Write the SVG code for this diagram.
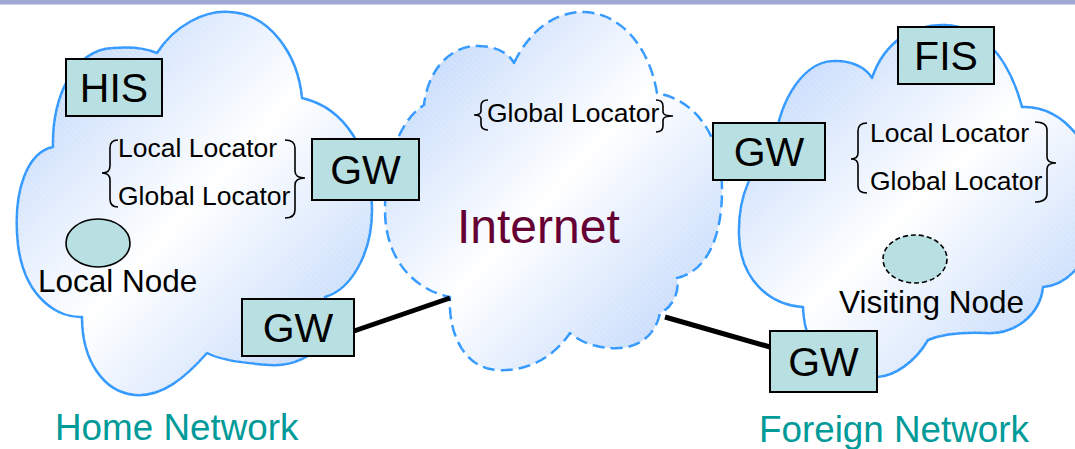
<svg xmlns="http://www.w3.org/2000/svg" width="1075" height="449" viewBox="0 0 1075 449">
  <defs>
    <linearGradient id="cloudFill" x1="0" y1="0" x2="1" y2="1">
      <stop offset="0" stop-color="#b3cffa"/>
      <stop offset="0.5" stop-color="#ffffff"/>
      <stop offset="1" stop-color="#b3cffa"/>
    </linearGradient>
    <pattern id="hatch" width="4" height="4" patternUnits="userSpaceOnUse" patternTransform="rotate(-45)">
      <line x1="0" y1="0" x2="0" y2="4" stroke="#ffffff" stroke-width="1" opacity="0.35"/>
    </pattern>
    <style>
      .cloud { fill: url(#cloudFill); stroke: #3399ff; stroke-width: 2.5; stroke-linejoin: round; }
      .hatch { fill: url(#hatch); stroke: none; }
      .dashed { stroke-dasharray: 12 6; }
      .box { fill: #b8e0e2; stroke: #000; stroke-width: 2; }
      .boxLabel { font-family: "Liberation Sans", Arial, sans-serif; font-size: 41px; fill: #000; text-anchor: middle; }
      .loc { font-family: "Liberation Sans", Arial, sans-serif; font-size: 26.5px; fill: #000; }
      .nodeLabel { font-family: "Liberation Sans", Arial, sans-serif; font-size: 31.5px; fill: #000; }
      .netLabel { font-family: "Liberation Sans", Arial, sans-serif; font-size: 36.8px; fill: #009a99; }
      .brace { fill: none; stroke: #000; stroke-width: 1.6; }
      .node { fill: #b8e0e2; stroke: #000; stroke-width: 1.6; }
      .link { stroke: #000; stroke-width: 5; }
    </style>
  </defs>

  <rect width="1075" height="449" fill="#ffffff"/>
  <rect x="0" y="0" width="1075" height="4.5" fill="#a0a8d4"/>

  <!-- Home network cloud -->
  <g id="home-network">
    <path id="home-cloud" class="cloud" d="M53,147 C52,100 72,50 113,48 C135,46 150,50 157,53 C175,25 205,10 230,12 C270,14 298,55 302,98 C345,108 372,150 372,210 C372,255 350,290 325,297 C345,322 318,368 270,365 C240,363 220,360 207,353 C185,378 162,397 135,395 C103,392 82,360 82,317 C60,318 25,300 18,245 C12,190 28,152 53,147 Z"/>
    <path class="hatch" d="M53,147 C52,100 72,50 113,48 C135,46 150,50 157,53 C175,25 205,10 230,12 C270,14 298,55 302,98 C345,108 372,150 372,210 C372,255 350,290 325,297 C345,322 318,368 270,365 C240,363 220,360 207,353 C185,378 162,397 135,395 C103,392 82,360 82,317 C60,318 25,300 18,245 C12,190 28,152 53,147 Z"/>
  </g>

  <!-- Internet cloud -->
  <g id="internet">
    <path id="internet-cloud" class="cloud dashed" d="M514,63 C530,30 555,12 583,12 C615,12 648,40 657,93 C695,100 722,135 722,190 C722,240 705,272 677,278 C680,292 672,308 660,313 C655,338 635,350 610,348 C595,347 580,342 570,333 C555,355 530,372 497,370 C465,368 448,335 450,297 C415,290 385,260 385,210 C385,160 400,120 424,105 C428,70 450,46 477,46 C495,46 508,52 514,63 Z"/>
    <path class="hatch" d="M514,63 C530,30 555,12 583,12 C615,12 648,40 657,93 C695,100 722,135 722,190 C722,240 705,272 677,278 C680,292 672,308 660,313 C655,338 635,350 610,348 C595,347 580,342 570,333 C555,355 530,372 497,370 C465,368 448,335 450,297 C415,290 385,260 385,210 C385,160 400,120 424,105 C428,70 450,46 477,46 C495,46 508,52 514,63 Z"/>
  </g>

  <!-- Foreign network cloud -->
  <g id="foreign-network">
    <path id="foreign-cloud" class="cloud" d="M872,78 C885,40 915,24 945,25 C980,26 1008,55 1022,107 C1065,105 1100,150 1098,210 C1096,255 1070,285 1043,287 C1040,315 1015,335 985,333 C960,332 940,335 928,340 C915,362 895,376 877,377 C840,380 805,360 803,307 C770,305 740,280 739,235 C738,195 752,165 775,150 C775,110 800,62 833,61 C852,60 866,68 872,78 Z"/>
    <path class="hatch" d="M872,78 C885,40 915,24 945,25 C980,26 1008,55 1022,107 C1065,105 1100,150 1098,210 C1096,255 1070,285 1043,287 C1040,315 1015,335 985,333 C960,332 940,335 928,340 C915,362 895,376 877,377 C840,380 805,360 803,307 C770,305 740,280 739,235 C738,195 752,165 775,150 C775,110 800,62 833,61 C852,60 866,68 872,78 Z"/>
  </g>

  <!-- Links between gateways and the Internet -->
  <g id="connectors">
    <line class="link" x1="354" y1="331" x2="450" y2="298"/>
    <line class="link" x1="665" y1="317" x2="770" y2="347"/>
  </g>

  <!-- Locator braces and labels -->
  <g id="home-locators">
    <path class="brace" d="M118,140 Q110,140 110,148 L110,166 Q110,173 102,173 Q110,173 110,180 L110,199 Q110,207 118,207"/>
    <path class="brace" d="M285,140 Q295,140 295,148 L295,171 Q295,178 305,178 Q295,178 295,185 L295,210 Q295,218 285,218"/>
    <text class="loc" x="118" y="157">Local Locator</text>
    <text class="loc" x="118" y="205">Global Locator</text>
  </g>

  <g id="internet-locator">
    <path class="brace" d="M488,100 Q481,100 481,106 L481,111 Q481,115 474,115 Q481,115 481,119 L481,124 Q481,130 488,130"/>
    <path class="brace" d="M656,100 Q663,100 663,106 L663,112 Q663,116 673,116 Q663,116 663,120 L663,126 Q663,132 656,132"/>
    <text class="loc" x="487" y="122">Global Locator</text>
    <text x="457" y="243" font-family="Liberation Sans, Arial, sans-serif" font-size="48" fill="#660033">Internet</text>
  </g>

  <g id="foreign-locators">
    <path class="brace" d="M867,123 Q858,123 858,131 L858,153 Q858,159 851,159 Q858,159 858,165 L858,186 Q858,193 867,193"/>
    <path class="brace" d="M1035,122 Q1047,122 1047,130 L1047,157 Q1047,163 1056,163 Q1047,163 1047,169 L1047,194 Q1047,202 1035,202"/>
    <text class="loc" x="870" y="142">Local Locator</text>
    <text class="loc" x="870" y="190">Global Locator</text>
  </g>

  <!-- Servers and gateways -->
  <g id="his">
    <rect class="box" x="66" y="59" width="96" height="57"/>
    <text class="boxLabel" x="114" y="102">HIS</text>
  </g>
  <g id="gw-home-upper">
    <rect class="box" x="312" y="139" width="107" height="61"/>
    <text class="boxLabel" x="365.5" y="184">GW</text>
  </g>
  <g id="gw-home-lower">
    <rect class="box" x="242" y="299" width="112" height="57"/>
    <text class="boxLabel" x="298" y="342">GW</text>
  </g>
  <g id="fis">
    <rect class="box" x="898" y="27" width="96" height="57"/>
    <text class="boxLabel" x="946" y="70">FIS</text>
  </g>
  <g id="gw-foreign-upper">
    <rect class="box" x="713" y="123" width="112" height="57"/>
    <text class="boxLabel" x="769" y="166">GW</text>
  </g>
  <g id="gw-foreign-lower">
    <rect class="box" x="770" y="331" width="107" height="61"/>
    <text class="boxLabel" x="823.5" y="376">GW</text>
  </g>

  <!-- Hosts -->
  <g id="local-node">
    <ellipse class="node" cx="98" cy="243" rx="32" ry="24"/>
    <text class="nodeLabel" x="38" y="292">Local Node</text>
  </g>
  <g id="visiting-node">
    <ellipse class="node" cx="915" cy="259" rx="32" ry="24" stroke-dasharray="5 3"/>
    <text class="nodeLabel" x="839" y="313">Visiting Node</text>
  </g>

  <!-- Network captions -->
  <text class="netLabel" x="55" y="440">Home Network</text>
  <text class="netLabel" x="759" y="442">Foreign Network</text>
</svg>
